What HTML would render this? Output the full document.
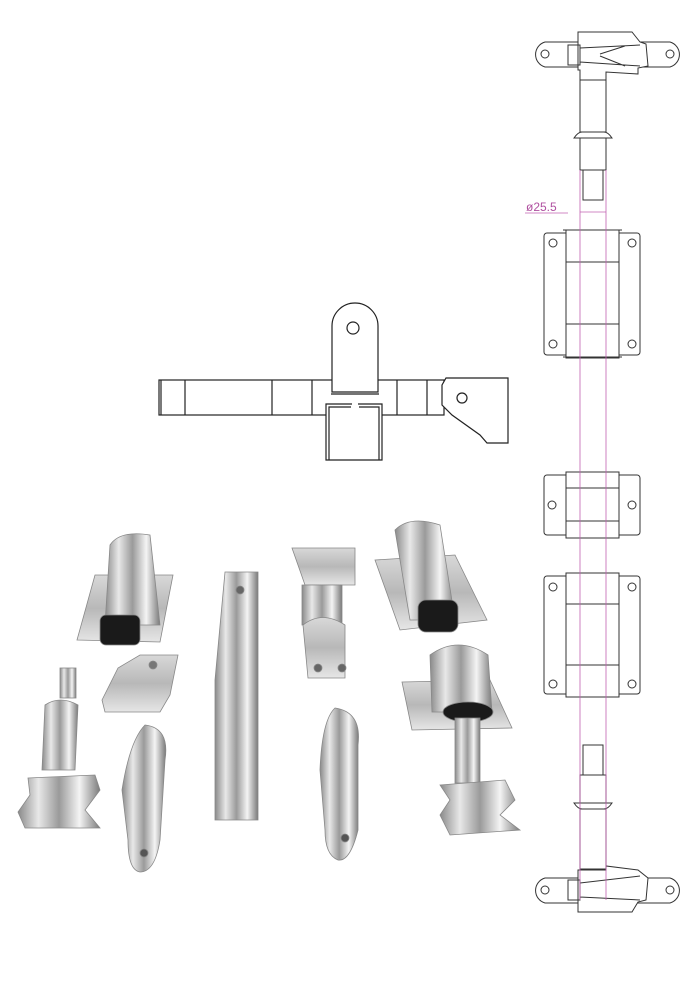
<!DOCTYPE html>
<html><head><meta charset="utf-8"><style>
html,body{margin:0;padding:0;background:#fff;}
svg{display:block;}
</style></head><body>
<svg width="700" height="1000" viewBox="0 0 700 1000" xmlns="http://www.w3.org/2000/svg">
<defs>
<linearGradient id="m" x1="0" x2="1" y1="0" y2="0">
<stop offset="0" stop-color="#8a8a8a"/><stop offset="0.25" stop-color="#e8e8e8"/><stop offset="0.5" stop-color="#9a9a9a"/><stop offset="0.75" stop-color="#f4f4f4"/><stop offset="1" stop-color="#7a7a7a"/>
</linearGradient>
<linearGradient id="p" x1="0" x2="0" y1="0" y2="1">
<stop offset="0" stop-color="#d8d8d8"/><stop offset="0.5" stop-color="#b8b8b8"/><stop offset="1" stop-color="#e6e6e6"/>
</linearGradient>
</defs>
<g fill="none" stroke="#222" stroke-width="1.2">
<!-- middle drawing -->
<rect x="159" y="380" width="285" height="35" fill="#fff"/>
<path d="M446,378 H508 V443 H487 L480,435 L452,415 L442,405 V385 Z" fill="#fff"/>
<line x1="161" y1="380" x2="161" y2="415"/>
<line x1="185" y1="380" x2="185" y2="415"/>
<line x1="272" y1="380" x2="272" y2="415"/>
<line x1="312" y1="380" x2="312" y2="415"/>
<line x1="397" y1="380" x2="397" y2="415"/>
<line x1="427" y1="380" x2="427" y2="415"/>
<circle cx="462" cy="398" r="5"/>
<path d="M332,392 V326 A23,23 0 0 1 378,326 V392 Z" fill="#fff"/>
<line x1="331" y1="394" x2="379" y2="394"/>
<circle cx="353" cy="328" r="6"/>
<rect x="326" y="404" width="56" height="56" fill="#fff" stroke="none"/>
<path d="M352,404 H326 V460 H382 V404 H358"/>
<path d="M351,407 H329 V460 M359,407 H379 V460"/>
<!-- right drawing -->
<g stroke="#333" stroke-width="1">
<path d="M545,42 H670 A13,13 0 0 1 670,67 H545 A13,13 0 0 1 545,42 Z" fill="#fff"/>
<circle cx="545" cy="54" r="4"/><circle cx="670" cy="54" r="4"/>
<path d="M578,32 H632 L640,42 L646,44 L648,66 L638,68 L638,74 L606,72 V80 H580 V70 H578 Z" fill="#fff"/>
<path d="M568,45 H580 V65 H568 Z M580,48 L640,45 M580,62 L640,66 M600,54 L625,46 M600,56 L625,66"/>
<rect x="580" y="80" width="26" height="52" fill="#fff"/>
<path d="M574,138 Q578,132 582,132 H604 Q608,132 612,138 H574 Z" fill="#fff"/>
<rect x="580" y="138" width="26" height="32" fill="#fff"/>
<rect x="583" y="170" width="20" height="30" fill="#fff"/>
<rect x="544" y="233" width="96" height="122" rx="3" fill="#fff"/>
<rect x="566" y="230" width="53" height="128" fill="#fff"/>
<line x1="563" y1="230" x2="622" y2="230"/><line x1="563" y1="357" x2="622" y2="357"/>
<line x1="566" y1="262" x2="619" y2="262"/><line x1="566" y1="324" x2="619" y2="324"/>
<circle cx="553" cy="243" r="4"/><circle cx="632" cy="243" r="4"/><circle cx="553" cy="344" r="4"/><circle cx="632" cy="344" r="4"/>
<rect x="544" y="475" width="96" height="60" rx="3" fill="#fff"/>
<rect x="566" y="472" width="53" height="66" fill="#fff"/>
<line x1="566" y1="488" x2="619" y2="488"/><line x1="566" y1="521" x2="619" y2="521"/>
<circle cx="552" cy="505" r="4"/><circle cx="632" cy="505" r="4"/>
<rect x="544" y="576" width="96" height="118" rx="3" fill="#fff"/>
<rect x="566" y="573" width="53" height="124" fill="#fff"/>
<line x1="566" y1="604" x2="619" y2="604"/><line x1="566" y1="665" x2="619" y2="665"/>
<circle cx="553" cy="587" r="4"/><circle cx="632" cy="587" r="4"/><circle cx="553" cy="684" r="4"/><circle cx="632" cy="684" r="4"/>
<rect x="583" y="745" width="20" height="30" fill="#fff"/>
<rect x="580" y="775" width="26" height="28" fill="#fff"/>
<path d="M574,803 H612 Q608,809 604,809 H582 Q578,809 574,803 Z" fill="#fff"/>
<rect x="580" y="809" width="26" height="60" fill="#fff"/>
<path d="M545,878 H670 A13,13 0 0 1 670,903 H545 A13,13 0 0 1 545,878 Z" fill="#fff"/>
<circle cx="545" cy="890" r="4"/><circle cx="670" cy="890" r="4"/>
<path d="M578,870 H606 V866 L638,870 L648,878 L646,900 L638,902 L632,912 H578 Z" fill="#fff"/>
<path d="M568,880 H580 V900 H568 Z M580,883 L640,876 M580,897 L640,900"/>
</g>
</g>
<g stroke="#c060b0" stroke-width="0.8" fill="none">
<line x1="580" y1="170" x2="580" y2="900"/>
<line x1="606" y1="170" x2="606" y2="900"/>
<line x1="525" y1="213" x2="568" y2="213"/>
<line x1="580" y1="212" x2="606" y2="212"/>
</g>
<text x="526" y="211" font-family="Liberation Sans, sans-serif" font-size="12" fill="#b050a0">ø25.5</text>
<g stroke="#888" stroke-width="0.8">
<path d="M77,640 L95,575 H173 L160,642 Z" fill="url(#p)"/>
<path d="M110,545 Q120,530 150,535 L160,625 H105 Z" fill="url(#m)"/>
<rect x="100" y="615" width="40" height="30" rx="6" fill="#1a1a1a"/>
<path d="M102,700 L118,668 L140,655 H178 L170,695 L160,712 H105 Z" fill="url(#p)"/>
<circle cx="153" cy="665" r="4" fill="#777"/>
<path d="M225,572 H258 V820 H215 V680 Z" fill="url(#m)"/>
<circle cx="240" cy="590" r="4" fill="#666"/>
<path d="M292,548 H355 V585 H305 Z" fill="url(#p)"/>
<path d="M302,585 H342 V625 H302 Z" fill="url(#m)"/>
<path d="M303,625 Q322,610 345,625 V678 H308 Z" fill="url(#p)"/>
<circle cx="318" cy="668" r="4" fill="#666"/><circle cx="342" cy="668" r="4" fill="#666"/>
<path d="M375,560 L455,555 L487,620 L400,630 Z" fill="url(#p)"/>
<path d="M395,530 Q410,515 440,525 L455,620 H410 Z" fill="url(#m)"/>
<rect x="418" y="600" width="40" height="32" rx="8" fill="#1a1a1a"/>
<rect x="60" y="668" width="16" height="30" fill="url(#m)"/>
<path d="M45,705 Q60,695 78,705 L75,770 H42 Z" fill="url(#m)"/>
<path d="M28,778 L95,775 L100,790 L85,810 L100,828 H25 L18,812 L30,795 Z" fill="url(#m)"/>
<path d="M145,725 Q170,728 165,760 L160,840 Q155,872 140,872 Q128,870 128,840 L122,790 Q130,740 145,725 Z" fill="url(#m)"/>
<circle cx="144" cy="853" r="4" fill="#555"/>
<path d="M335,708 Q362,712 358,745 L358,830 Q350,862 338,860 Q325,855 325,830 L320,770 Q322,720 335,708 Z" fill="url(#m)"/>
<circle cx="345" cy="838" r="4" fill="#555"/>
<path d="M402,682 L490,680 L512,728 L412,730 Z" fill="url(#p)"/>
<path d="M430,655 Q458,635 488,655 L492,712 H432 Z" fill="url(#m)"/>
<ellipse cx="468" cy="712" rx="25" ry="10" fill="#1a1a1a"/>
<rect x="455" y="718" width="25" height="65" fill="url(#m)"/>
<path d="M440,785 L505,780 L515,800 L500,815 L520,830 L450,835 L440,815 L450,800 Z" fill="url(#m)"/>
</g>
</svg>
</body></html>
